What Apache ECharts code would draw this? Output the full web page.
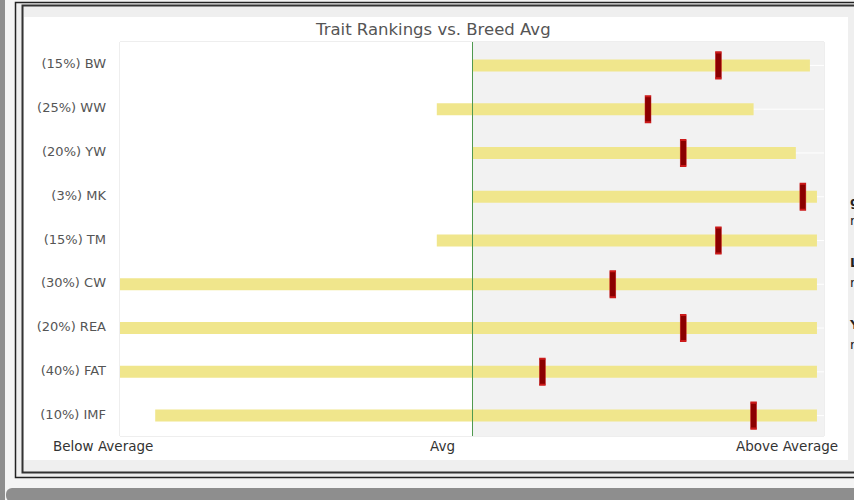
<!DOCTYPE html>
<html>
<head>
<meta charset="utf-8">
<script src="https://cdn.jsdelivr.net/npm/echarts@6/dist/echarts.min.js"></script>
<style>
  html, body { margin: 0; padding: 0; background: #f0f0f0; }
  #chart { width: 854px; height: 500px; }
</style>
</head>
<body>
<div id="chart"></div>
<script>
// trait labels (top to bottom)
var traits = ['(15%) BW', '(25%) WW', '(20%) YW', '(3%) MK', '(15%) TM', '(30%) CW', '(20%) REA', '(40%) FAT', '(10%) IMF']
// breed range for each trait, -100 = below average, 0 = avg, 100 = above average
var rangeLow = [0, -10, 0, 0, -10, -100, -100, -100, -90]
var rangeHigh = [96, 80, 92, 98, 98, 98, 98, 98, 98]
// animal ranking marker
var rank = [70, 50, 60, 94, 70, 40, 60, 20, 80]
var AVG = 0
var xLabels = ['Below Average', 'Avg', 'Above Average']
// clipped side text at the right window edge
var sideText = ['g', 'r', 'L', 'r', 'Y', 'r']

var rangeData = traits.map(function (t, i) { return [i, rangeLow[i], rangeHigh[i]] })
var rankData = traits.map(function (t, i) { return [rank[i], i] })

var font = 'DejaVu Sans'
var rowShift = 1.5 // bars sit a little below the band centre

var frame = [
  { type: 'rect', z: -100, shape: { x: 0, y: 0, width: 854, height: 500 }, style: { fill: '#f4f4f4' } },
  { type: 'rect', z: -99, shape: { x: 0, y: 0, width: 5, height: 500 }, style: { fill: '#8e8e8e' } },
  { type: 'rect', z: -99, shape: { x: 6, y: 488, width: 860, height: 14, r: 6 }, style: { fill: '#8e8e8e' } },
  { type: 'rect', z: -98, shape: { x: 15.5, y: 2.5, width: 860, height: 475 }, style: { fill: '#efefef', stroke: '#222', lineWidth: 1.5 } },
  { type: 'rect', z: -97, shape: { x: 22.5, y: 5.5, width: 860, height: 467 }, style: { fill: '#efefef', stroke: '#333', lineWidth: 2 } },
  { type: 'rect', z: -96, shape: { x: 24, y: 17, width: 824, height: 443 }, style: { fill: '#ffffff' } },
  { type: 'text', z: 100, x: 53, y: 446, style: { text: xLabels[0], fill: '#333', fontSize: 13.5, fontFamily: font, verticalAlign: 'middle' } },
  { type: 'text', z: 100, x: 430, y: 446, style: { text: xLabels[1], fill: '#333', fontSize: 13.5, fontFamily: font, verticalAlign: 'middle' } },
  { type: 'text', z: 100, x: 736, y: 446, style: { text: xLabels[2], fill: '#333', fontSize: 13.5, fontFamily: font, verticalAlign: 'middle' } }
]
var sideY = [201, 220, 262, 282, 324, 344]
sideText.forEach(function (t, i) {
  frame.push({ type: 'text', z: 100, x: 850, y: sideY[i], style: { text: t, fill: '#222', fontSize: 13, fontWeight: i % 2 ? 'normal' : 'bold', fontFamily: font, verticalAlign: 'middle' } })
})

var myChart = echarts.init(document.getElementById('chart'), null, { renderer: 'svg' })
var option = {
  animation: false,
  textStyle: { fontFamily: font },
  title: {
    text: 'Trait Rankings vs. Breed Avg',
    left: 316,
    top: 21,
    padding: 0,
    textStyle: { color: '#555', fontSize: 16.5, fontWeight: 'normal', fontFamily: font }
  },
  grid: {
    left: 120,
    right: 30,
    top: 42,
    bottom: 64,
    show: true,
    borderColor: '#dddddd',
    borderWidth: 1,
    backgroundColor: 'transparent'
  },
  xAxis: {
    type: 'value',
    min: -100,
    max: 100,
    interval: 100,
    axisLine: { show: false },
    axisTick: { show: false },
    axisLabel: { show: false },
    splitLine: { show: false },
    splitArea: { show: true, areaStyle: { color: ['#ffffff', '#f2f2f2'] } }
  },
  yAxis: {
    type: 'category',
    inverse: true,
    data: traits,
    axisLine: { show: false },
    axisTick: { show: false },
    splitLine: { show: false },
    axisLabel: { color: '#555', fontSize: 13, margin: 14, fontFamily: font }
  },
  graphic: frame,
  series: [
    {
      // white gridlines across the above-average half + avg line
      type: 'custom',
      z: 1,
      silent: true,
      data: rangeData,
      encode: { x: [1, 2], y: 0 },
      renderItem: function (params, api) {
        var cat = api.value(0)
        var a = api.coord([AVG, cat])
        var b = api.coord([100, cat])
        return {
          type: 'line',
          shape: { x1: a[0], y1: a[1] + rowShift, x2: b[0], y2: b[1] + rowShift },
          style: { stroke: '#ffffff', lineWidth: 1 }
        }
      },
      markLine: {
        silent: true,
        symbol: 'none',
        label: { show: false },
        lineStyle: { color: '#4f9a4f', width: 1, type: 'solid' },
        data: [{ xAxis: AVG }]
      }
    },
    {
      type: 'custom',
      z: 2,
      data: rangeData,
      encode: { x: [1, 2], y: 0 },
      renderItem: function (params, api) {
        var cat = api.value(0)
        var p0 = api.coord([api.value(1), cat])
        var p1 = api.coord([api.value(2), cat])
        var h = 12
        return {
          type: 'rect',
          shape: { x: p0[0], y: p0[1] + rowShift - h / 2, width: p1[0] - p0[0], height: h },
          style: { fill: '#f0e68c' }
        }
      }
    },
    {
      type: 'scatter',
      z: 3,
      data: rankData,
      symbol: 'rect',
      symbolSize: [6, 26],
      symbolOffset: [0, rowShift],
      itemStyle: { color: '#8b0000', borderColor: '#cc1a1a', borderWidth: 1, opacity: 1 }
    }
  ]
}
myChart.setOption(option)
</script>
</body>
</html>
